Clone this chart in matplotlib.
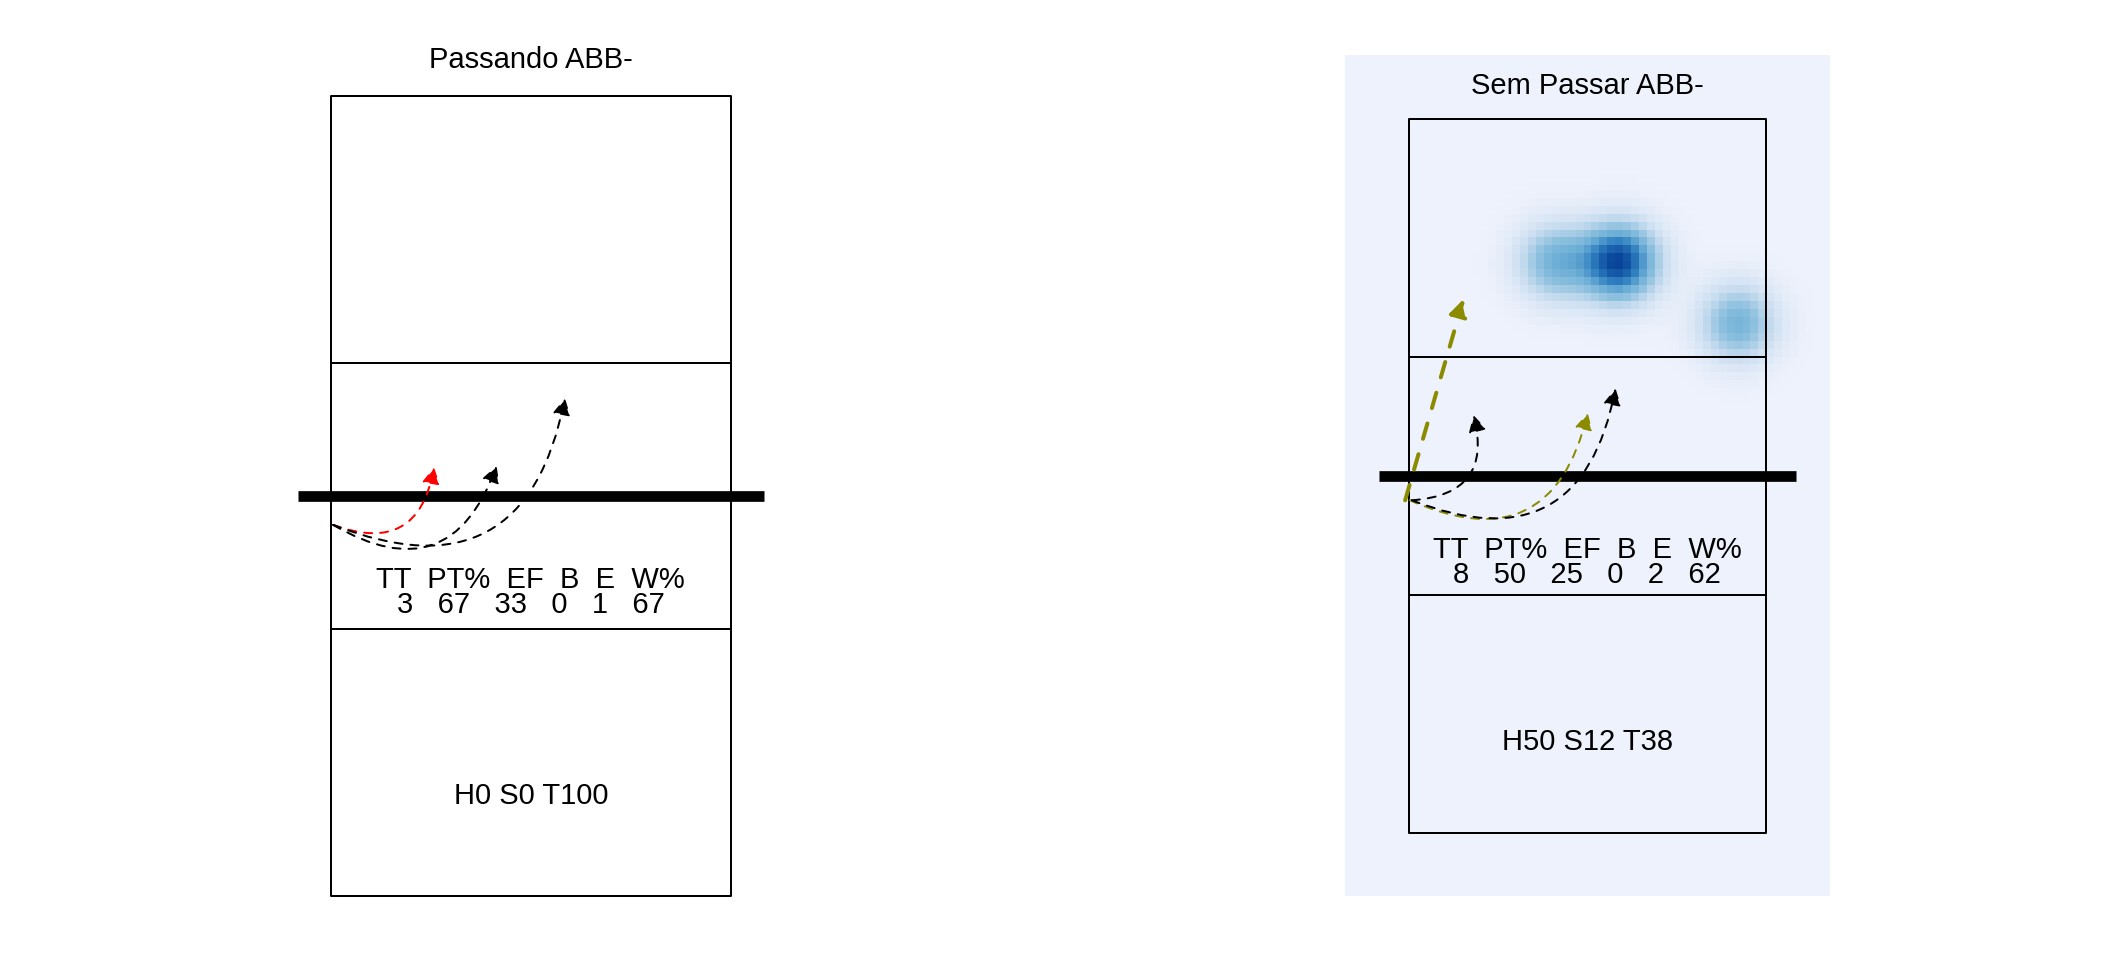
import numpy as np
import matplotlib.pyplot as plt
from matplotlib.patches import FancyArrowPatch, Rectangle
from matplotlib.colors import LinearSegmentedColormap

plt.rcParams['font.family'] = ['Liberation Sans', 'DejaVu Sans']

W, H = 2112, 960

# quadra 9 x 18 m, rede em 9, linhas de ataque a 3 m
court_w, court_h = 9, 18
net_y = 9
attack_lines = [6, 12]

stat_names = ["TT", "PT%", "EF", "B", "E", "W%"]

# --- painel esquerdo ---
title_left = "Passando ABB-"
stats_left = [3, 67, 33, 0, 1, 67]
hst_left = "H0 S0 T100"
left_x0 = [0.05, 0.05, 0.05]
left_y0 = [8.35, 8.35, 8.35]
left_x1 = [2.32, 3.73, 5.27]
left_y1 = [9.65, 9.68, 11.2]
left_eval = ["=", "#", "#"]
left_n = [1, 1, 1]

# --- painel direito ---
title_right = "Sem Passar ABB-"
stats_right = [8, 50, 25, 0, 2, 62]
hst_right = "H50 S12 T38"
right_x0 = [-0.09, 0.08, 0.03, 0.08]
right_y0 = [8.38, 8.38, 8.38, 8.38]
right_x1 = [1.38, 1.63, 4.51, 5.21]
right_y1 = [13.45, 10.53, 10.58, 11.2]
right_eval = ["+", "#", "+", "#"]
right_n = [2, 1, 1, 1]

# pontos de chegada usados no mapa de calor
heat_x = [3.7, 5.3, 5.3, 8.28]
heat_y = [14.38, 14.38, 14.38, 12.84]

# estilos
eval_colors = {"#": "black", "=": "red", "+": "#8B8B00"}
left_curv = [0.6, 0.6, 0.6]
right_curv = [0.0, 0.6, 0.6, 0.6]
fs = 21
heat_cmap = LinearSegmentedColormap.from_list(
    "azul", [(0.0, "#EEF2FC"), (0.2, "#C9DDF0"), (0.4, "#8CC0DE"),
             (0.55, "#6BAED6"), (0.75, "#2F7FC0"), (1.0, "#08449A")])


def court_axes(fig, court_px, xlim, ylim):
    left, top, right, bottom = court_px
    sx = (right - left) / court_w
    sy = (bottom - top) / court_h
    x_a = left + xlim[0] * sx
    w_a = (xlim[1] - xlim[0]) * sx
    y_a = (H - bottom) + ylim[0] * sy
    h_a = (ylim[1] - ylim[0]) * sy
    ax = fig.add_axes([x_a / W, y_a / H, w_a / W, h_a / H])
    ax.set_xlim(xlim)
    ax.set_ylim(ylim)
    ax.axis('off')
    return ax


def draw_panel(ax, title, stats, hst, x0, y0, x1, y1, evals, n, curv):
    ax.add_patch(Rectangle((0, 0), court_w, court_h, fill=False, lw=1.44,
                           ec="black", joinstyle="round", zorder=2))
    for yl in attack_lines:
        ax.plot([0, court_w], [yl, yl], color="black", lw=1.44, zorder=2)
    ax.plot([-0.75, court_w + 0.75], [net_y, net_y], color="black", lw=7.7,
            solid_capstyle="butt", zorder=3)
    for i in range(len(x0)):
        c = eval_colors[evals[i]]
        arr = FancyArrowPatch((x0[i], y0[i]), (x1[i], y1[i]),
                              connectionstyle=f"arc3,rad={curv[i]}",
                              arrowstyle="-|>,head_length=0.5,head_width=0.27",
                              mutation_scale=20, color=c, lw=1.44 * n[i],
                              linestyle=(0, (4, 4)), shrinkA=0, shrinkB=0,
                              zorder=4)
        ax.add_patch(arr)
    ax.text(court_w / 2, 18.62, title, ha="center", va="baseline", fontsize=fs)
    ax.text(court_w / 2, 6.92, "  ".join(stat_names), ha="center",
            va="baseline", fontsize=fs, zorder=5)
    ax.annotate("   ".join(str(v) for v in stats), xy=(court_w / 2, 6.92),
                xytext=(0, -18), textcoords="offset points", ha="center",
                va="baseline", fontsize=fs, zorder=5)
    ax.text(court_w / 2, 2.08, hst, ha="center", va="baseline", fontsize=fs)


fig = plt.figure(figsize=(W / 100, H / 100), dpi=100)

ax1 = court_axes(fig, (331, 96, 730.5, 896), (-1.6, 10.6), (-1.2, 19.6))
draw_panel(ax1, title_left, stats_left, hst_left, left_x0, left_y0,
           left_x1, left_y1, left_eval, left_n, left_curv)

ax2 = court_axes(fig, (1408.7, 118.7, 1766, 832.7), (-1.6, 10.6), (-1.6, 19.6))
xs = np.arange(-1.5, 10.51, 0.2)
ys = np.arange(-1.5, 19.51, 0.2)
X, Y = np.meshgrid(xs, ys)
sigma = 0.65
dens = np.zeros_like(X)
for hx, hy in zip(heat_x, heat_y):
    dens += np.exp(-((X - hx) ** 2 + (Y - hy) ** 2) / (2 * sigma ** 2))
dens /= dens.max()
ax2.imshow(dens, extent=(-1.6, 10.6, -1.6, 19.6), origin="lower",
           cmap=heat_cmap, interpolation="nearest", aspect="auto", zorder=0)
ax2.set_xlim(-1.6, 10.6)
ax2.set_ylim(-1.6, 19.6)
draw_panel(ax2, title_right, stats_right, hst_right, right_x0, right_y0,
           right_x1, right_y1, right_eval, right_n, right_curv)

fig.savefig("out.png", dpi=100)
